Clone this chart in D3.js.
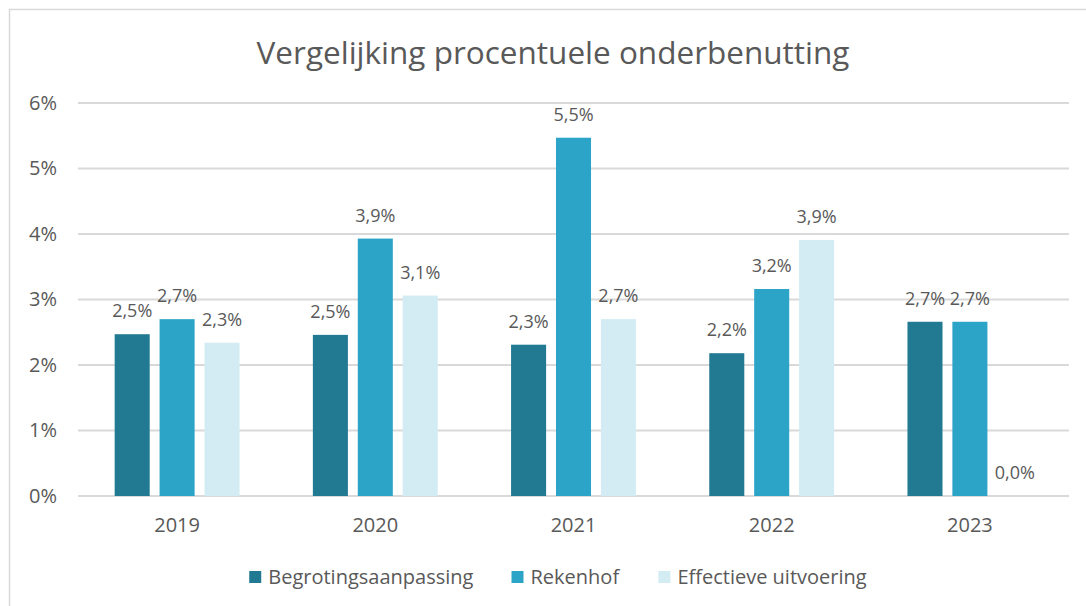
<!DOCTYPE html>
<html>
<head>
<meta charset="utf-8">
<script src="https://cdn.jsdelivr.net/npm/d3@7"></script>
<style>
  body { margin: 0; background: #fff; }
  text { font-family: "Open Sans", sans-serif; fill: #595959; }
</style>
</head>
<body>
<svg width="1086" height="606"></svg>
<script>
// data
var years = ["2019", "2020", "2021", "2022", "2023"];
var series = ["Begrotingsaanpassing", "Rekenhof", "Effectieve uitvoering"];
var begroting = [2.47, 2.46, 2.31, 2.18, 2.66];
var rekenhof = [2.70, 3.93, 5.47, 3.16, 2.66];
var effectief = [2.34, 3.06, 2.70, 3.91, 0];
var yTicks = [0, 1, 2, 3, 4, 5, 6];

var colors = d3.scaleOrdinal()
    .domain(series)
    .range(["#217A92", "#2CA4C7", "#D3ECF3"]);

var rows = years.map(function(y, i) {
  return { year: y, values: [begroting[i], rekenhof[i], effectief[i]] };
});

var svg = d3.select("svg");

// chart frame
svg.append("rect")
  .attr("x", 9.5).attr("y", 9.5)
  .attr("width", 1100).attr("height", 640)
  .attr("fill", "none")
  .attr("stroke", "#d9d9d9")
  .attr("stroke-width", 1.5);

var plot = { left: 78, right: 1069, top: 103, bottom: 496 };

var x0 = d3.scaleBand()
  .domain(years)
  .range([plot.left, plot.right])
  .paddingInner(0.37)
  .paddingOuter(0.185);

var x1 = d3.scaleBand()
  .domain(d3.range(series.length))
  .range([0, x0.bandwidth()])
  .paddingInner(0.22);

var y = d3.scaleLinear()
  .domain([0, 6])
  .range([plot.bottom, plot.top]);

// title
svg.append("text")
  .attr("x", 553)
  .attr("y", 64)
  .attr("text-anchor", "middle")
  .style("font-size", "31.5px")
  .text("Vergelijking procentuele onderbenutting");

// gridlines
svg.append("g").selectAll("line")
  .data(yTicks)
  .enter()
  .append("line")
  .attr("x1", plot.left).attr("x2", plot.right)
  .attr("y1", function(d) { return y(d); })
  .attr("y2", function(d) { return y(d); })
  .attr("stroke", "#d9d9d9")
  .attr("stroke-width", 2);

// y axis
var yAxis = svg.append("g")
  .attr("transform", "translate(" + (plot.left - 21) + ",0)")
  .call(d3.axisLeft(y).tickValues(yTicks).tickSize(0).tickFormat(function(d) { return d + "%"; }));
yAxis.select(".domain").remove();
yAxis.selectAll("text")
  .attr("x", 0)
  .style("font-family", "'Open Sans', sans-serif")
  .style("font-size", "20px")
  .attr("fill", "#595959");

// x axis
var xAxis = svg.append("g")
  .attr("transform", "translate(0," + plot.bottom + ")")
  .call(d3.axisBottom(x0).tickSize(0));
xAxis.select(".domain").remove();
xAxis.selectAll("text")
  .attr("y", 22)
  .style("font-family", "'Open Sans', sans-serif")
  .style("font-size", "20px")
  .attr("fill", "#595959");

// bars
var groups = svg.append("g").selectAll("g.year")
  .data(rows)
  .enter()
  .append("g")
  .attr("class", "year")
  .attr("transform", function(d) { return "translate(" + x0(d.year) + ",0)"; });

groups.selectAll("rect")
  .data(function(d) { return d.values; })
  .enter()
  .append("rect")
  .attr("x", function(d, i) { return x1(i); })
  .attr("y", function(d) { return y(d); })
  .attr("width", x1.bandwidth())
  .attr("height", function(d) { return plot.bottom - y(d); })
  .attr("fill", function(d, i) { return colors(series[i]); });

// value labels
var fmt = function(v) { return v.toFixed(1).replace(".", ",") + "%"; };
groups.selectAll("text.val")
  .data(function(d) { return d.values; })
  .enter()
  .append("text")
  .attr("class", "val")
  .attr("x", function(d, i) { return x1(i) + x1.bandwidth() / 2; })
  .attr("y", function(d) { return y(d) - 17; })
  .attr("text-anchor", "middle")
  .style("font-size", "18px")
  .text(fmt);

// legend
var legend = svg.append("g").attr("transform", "translate(0,577)");
var items = legend.selectAll("g.item")
  .data(series)
  .enter()
  .append("g")
  .attr("class", "item");

items.append("rect")
  .attr("y", -6)
  .attr("width", 12)
  .attr("height", 12)
  .attr("fill", function(d) { return colors(d); });

items.append("text")
  .attr("x", 19)
  .attr("dy", "0.35em")
  .style("font-size", "20px")
  .text(function(d) { return d; });

var widths = [];
items.each(function() { widths.push(this.getBBox().width); });
var gap = 38;
var total = d3.sum(widths) + gap * (widths.length - 1);
var pos = 558 - total / 2;
items.attr("transform", function(d, i) {
  var p = pos;
  pos += widths[i] + gap;
  return "translate(" + p + ",0)";
});
</script>
</body>
</html>
